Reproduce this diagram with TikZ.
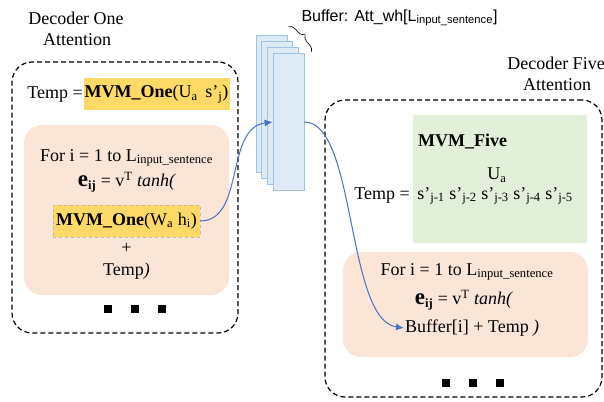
\documentclass[tikz,border=0pt]{standalone}
\usepackage{fontspec}
\setmainfont{Liberation Serif}
\newfontfamily\buflabelfont{Liberation Sans}
\usetikzlibrary{arrows.meta,calc,decorations.pathreplacing}

\definecolor{mvmyellow}{HTML}{FFD966}
\definecolor{peach}{HTML}{FBE5D6}
\definecolor{mvmgreen}{HTML}{E2F0D9}
\definecolor{buffill}{HTML}{DEEBF7}
\definecolor{bufline}{HTML}{9DC3E6}
\definecolor{linkblue}{HTML}{4472C4}

\begin{document}
\begin{tikzpicture}[x=1pt,y=-1pt,
        font=\fontsize{18}{21}\selectfont,
        dashbox/.style={draw,line width=1.2pt,dash pattern=on 5pt off 3pt,rounded corners=20pt,inner sep=0pt},
        peachbox/.style={fill=peach,rounded corners=18pt,inner sep=0pt},
        mvmbox/.style={fill=mvmyellow,inner sep=0pt,minimum height=32pt},
        bufrect/.style={draw=bufline,fill=buffill,line width=0.8pt,minimum width=31pt,minimum height=137pt,inner sep=0pt},
        dot/.style={fill=black,minimum size=8pt,inner sep=0pt},
        link/.style={draw=linkblue,line width=1pt,-{Latex[length=8pt,width=7pt]}}]

    \useasboundingbox (0,0) rectangle (604,401);

    % Decoder one attention
    \node (onetitle) at (76,18) {Decoder One};
    \node (onetitle2) at (77,40) {Attention};
    \node[dashbox,minimum width=226pt,minimum height=271pt] (one) at (125,197.5) {};
    \node[anchor=east,inner sep=1pt] (onetemp) at (84,95) {Temp =};
    \node[mvmbox,minimum width=146pt] (ua) at (156.5,94) {\textbf{MVM\_One}(U\textsubscript{a}\, s’\textsubscript{j})};
    \node[peachbox,minimum width=205pt,minimum height=170pt] (oneloop) at (126.5,210) {};
    \node (onefor) at (126.5,158) {For i = 1 to L\textsubscript{input\_sentence}};
    \node (oneeij) at (127,182) {{\fontsize{23}{24}\selectfont\bfseries e}\textsubscript{\bfseries ij} = v\textsuperscript{T} \textit{tanh(}};
    \node[mvmbox,minimum width=147pt,draw=gray!55,dashed] (wh) at (126.5,221) {\textbf{MVM\_One}(W\textsubscript{a} h\textsubscript{i})};
    \node (oneplus) at (126.5,248) {+};
    \node (onetemp2) at (126.5,271) {Temp\textit{)}};
    \node[dot] (od1) at (108,309) {};
    \node[dot] (od2) at (135,309) {};
    \node[dot] (od3) at (162,309) {};

    % Buffer stack
    \foreach \i/\x/\y in {1/271.5/103.5, 2/277/109.5, 3/283/115.5, 4/288.5/122}
        \node[bufrect] (buf\i) at (\x,\y) {};
    \draw[line width=0.6pt,decorate,decoration={brace,amplitude=7pt}]
        ($(buf1.north east)+(1,-8)$) -- ($(buf4.north east)+(7,-1)$);
    \node[anchor=west,font=\buflabelfont\fontsize{16}{18}\selectfont] (buflabel) at (298,18) {Buffer: Att\_wh[L\textsubscript{input\_sentence}]};

    % Decoder five attention
    \node (fivetitle) at (556,63) {Decoder Five};
    \node (fivetitle2) at (557,85) {Attention};
    \node[dashbox,minimum width=277pt,minimum height=297pt] (five) at (463.5,248.5) {};
    \node[fill=mvmgreen,minimum width=174pt,minimum height=128pt] (mvmfive) at (500,179) {};
    \node[anchor=west,inner sep=0pt] (fivename) at (418,142) {\textbf{MVM\_Five}};
    \node (fiveua) at (497,175) {U\textsubscript{a}};
    \node[anchor=base,inner sep=0pt] (fives) at (495,199) {s’\textsubscript{j-1} s’\textsubscript{j-2} s’\textsubscript{j-3} s’\textsubscript{j-4} s’\textsubscript{j-5}};
    \node[anchor=base east,inner sep=0pt] (fivetemp) at (410,199) {Temp =};
    \node[peachbox,minimum width=245pt,minimum height=105pt] (fiveloop) at (465.5,304.5) {};
    \node (fivefor) at (467,272) {For i = 1 to L\textsubscript{input\_sentence}};
    \node (fiveeij) at (464,300) {{\fontsize{23}{24}\selectfont\bfseries e}\textsubscript{\bfseries ij} = v\textsuperscript{T} \textit{tanh(}};
    \node[anchor=west,inner sep=1pt] (bufi) at (404,328) {Buffer[i] + Temp\textit{ )}};
    \node[dot] (fd1) at (446,383) {};
    \node[dot] (fd2) at (473,383) {};
    \node[dot] (fd3) at (500,383) {};

    % Links
    \draw[link] (wh.east) .. controls +(45,0) and +(-48,6) .. (buf4.west);
    \draw[link] (buf4.east) .. controls +(52,0) and +(-58,-8) .. (bufi.west);

\end{tikzpicture}
\end{document}
